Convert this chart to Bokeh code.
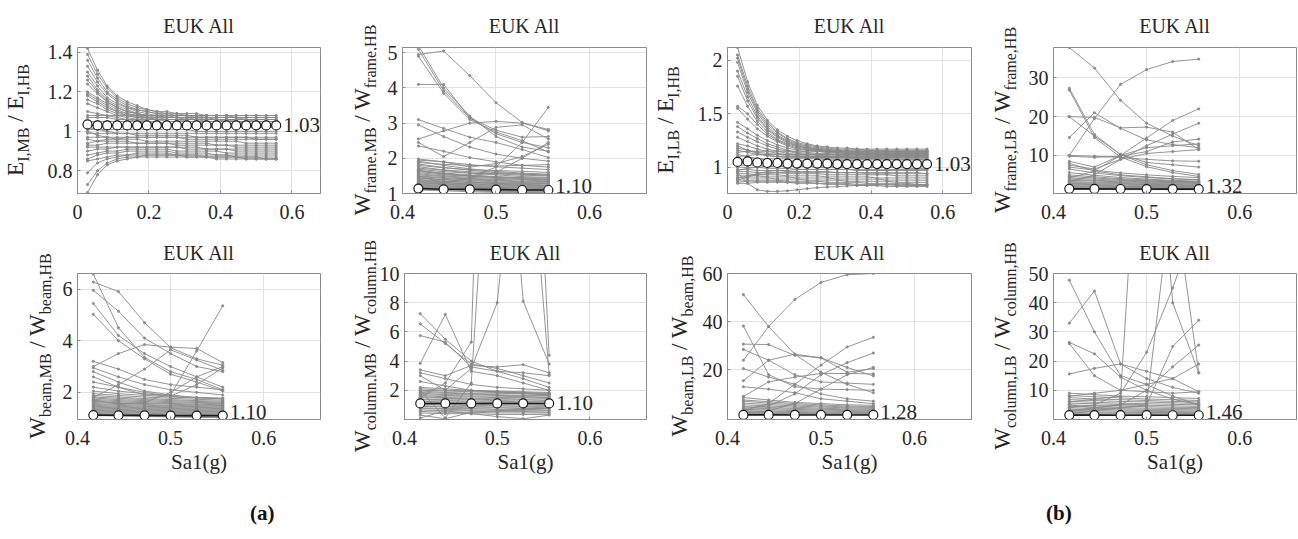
from bokeh.plotting import figure
from bokeh.models import Range1d, FixedTicker, Label, Div
from bokeh.layouts import column, row
from bokeh.embed import file_html
from bokeh.resources import INLINE

FONT = "Liberation Serif"
INK = "#262626"
GRAY = "#888888"
FRAME = "#8c8c8c"

# ---------------------------------------------------------------- data
# spectral acceleration steps (g)
SA_E = [0.028, 0.056, 0.083, 0.111, 0.139, 0.167, 0.194, 0.222, 0.250, 0.278,
        0.306, 0.333, 0.361, 0.389, 0.417, 0.444, 0.472, 0.500, 0.528, 0.556]
SA_W = [0.417, 0.444, 0.472, 0.500, 0.528, 0.556]

# input energy ratio, medium / high ductility
E_MB_HB = [
    [1.42,1.31,1.23,1.18,1.15,1.13,1.11,1.10,1.10,1.09,1.09,1.09,1.08,1.08,1.08,1.08,1.08,1.08,1.08,1.08],
    [1.39,1.29,1.22,1.17,1.14,1.12,1.11,1.10,1.09,1.09,1.08,1.08,1.08,1.08,1.08,1.07,1.07,1.07,1.07,1.07],
    [1.36,1.27,1.20,1.16,1.13,1.11,1.10,1.09,1.09,1.08,1.08,1.08,1.07,1.07,1.07,1.07,1.07,1.07,1.07,1.07],
    [1.33,1.25,1.19,1.15,1.12,1.11,1.10,1.09,1.08,1.08,1.08,1.07,1.07,1.07,1.07,1.07,1.06,1.06,1.06,1.06],
    [1.30,1.23,1.17,1.14,1.12,1.10,1.09,1.08,1.08,1.07,1.07,1.07,1.07,1.06,1.06,1.06,1.06,1.06,1.06,1.06],
    [1.28,1.21,1.16,1.13,1.11,1.09,1.08,1.08,1.07,1.07,1.07,1.06,1.06,1.06,1.06,1.06,1.06,1.05,1.05,1.05],
    [1.26,1.20,1.15,1.12,1.10,1.09,1.08,1.07,1.07,1.07,1.06,1.06,1.06,1.06,1.05,1.05,1.05,1.05,1.05,1.05],
    [1.24,1.19,1.15,1.12,1.10,1.09,1.08,1.08,1.07,1.07,1.07,1.07,1.06,1.06,1.06,1.06,1.06,1.06,1.06,1.06],
    [1.20,1.17,1.14,1.11,1.09,1.08,1.07,1.07,1.06,1.06,1.06,1.06,1.05,1.05,1.05,1.05,1.05,1.05,1.05,1.05],
    [1.19,1.16,1.13,1.10,1.09,1.08,1.07,1.06,1.06,1.06,1.05,1.05,1.05,1.05,1.05,1.05,1.04,1.04,1.04,1.04],
    [1.18,1.15,1.12,1.10,1.08,1.07,1.06,1.06,1.05,1.05,1.05,1.05,1.04,1.04,1.04,1.04,1.04,1.04,1.04,1.04],
    [1.16,1.14,1.11,1.09,1.08,1.07,1.07,1.06,1.06,1.06,1.06,1.06,1.06,1.06,1.06,1.06,1.06,1.06,1.06,1.06],
    [1.14,1.12,1.10,1.08,1.07,1.06,1.05,1.05,1.04,1.04,1.04,1.04,1.03,1.03,1.03,1.03,1.03,1.03,1.03,1.03],
    [1.10,1.09,1.08,1.07,1.06,1.05,1.05,1.04,1.04,1.04,1.03,1.03,1.03,1.03,1.03,1.03,1.03,1.02,1.02,1.02],
    [1.08,1.08,1.08,1.08,1.08,1.08,1.08,1.08,1.08,1.08,1.08,1.08,1.08,1.08,1.08,1.08,1.08,1.08,1.08,1.08],
    [1.07,1.07,1.07,1.06,1.06,1.06,1.06,1.06,1.06,1.06,1.06,1.06,1.06,1.06,1.06,1.05,1.05,1.05,1.05,1.05],
    [1.05,1.05,1.05,1.05,1.05,1.05,1.04,1.04,1.04,1.04,1.04,1.04,1.04,1.04,1.04,1.04,1.04,1.04,1.04,1.04],
    [1.03,1.03,1.03,1.03,1.03,1.03,1.03,1.03,1.03,1.03,1.03,1.03,1.02,1.02,1.02,1.02,1.02,1.02,1.02,1.02],
    [1.01,1.01,1.01,1.01,1.01,1.01,1.01,1.01,1.01,1.01,1.01,1.00,1.00,1.00,1.00,1.00,1.00,1.00,1.00,1.00],
    [0.99,0.99,0.99,0.99,0.99,0.99,0.99,0.99,0.99,0.99,0.99,0.99,0.99,0.99,0.99,0.99,0.99,0.99,0.99,0.99],
    [1.02,1.01,1.00,0.99,0.99,0.98,0.98,0.98,0.98,0.98,0.98,0.97,0.97,0.97,0.97,0.97,0.97,0.97,0.97,0.97],
    [0.97,0.97,0.97,0.97,0.97,0.97,0.97,0.97,0.97,0.97,0.96,0.96,0.96,0.96,0.96,0.96,0.96,0.96,0.96,0.96],
    [1.00,0.98,0.97,0.96,0.96,0.96,0.95,0.95,0.95,0.95,0.95,0.95,0.95,0.95,0.95,0.95,0.94,0.94,0.94,0.94],
    [0.96,0.95,0.95,0.95,0.95,0.94,0.94,0.94,0.94,0.94,0.94,0.94,0.94,0.93,0.93,0.93,0.93,0.93,0.93,0.93],
    [0.93,0.93,0.94,0.94,0.94,0.94,0.94,0.94,0.94,0.93,0.93,0.93,0.93,0.93,0.93,0.92,0.92,0.92,0.92,0.92],
    [0.92,0.92,0.92,0.92,0.92,0.92,0.92,0.92,0.92,0.92,0.92,0.92,0.91,0.91,0.91,0.91,0.91,0.91,0.91,0.91],
    [0.90,0.91,0.91,0.92,0.92,0.92,0.92,0.92,0.92,0.92,0.91,0.91,0.91,0.91,0.91,0.90,0.90,0.90,0.90,0.90],
    [0.88,0.89,0.90,0.90,0.91,0.91,0.91,0.91,0.91,0.90,0.90,0.90,0.90,0.90,0.89,0.89,0.89,0.89,0.89,0.89],
    [0.86,0.88,0.89,0.89,0.90,0.90,0.90,0.90,0.90,0.89,0.89,0.89,0.89,0.88,0.88,0.88,0.88,0.88,0.88,0.88],
    [0.85,0.86,0.87,0.88,0.88,0.89,0.89,0.89,0.89,0.88,0.88,0.88,0.88,0.88,0.88,0.87,0.87,0.87,0.87,0.87],
    [0.79,0.84,0.86,0.87,0.88,0.88,0.88,0.88,0.88,0.88,0.88,0.88,0.87,0.87,0.87,0.87,0.87,0.87,0.86,0.86],
    [0.73,0.80,0.84,0.86,0.87,0.87,0.88,0.88,0.88,0.88,0.87,0.87,0.87,0.87,0.87,0.87,0.86,0.86,0.86,0.86],
    [0.69,0.78,0.83,0.85,0.86,0.87,0.87,0.87,0.87,0.87,0.87,0.87,0.87,0.86,0.86,0.86,0.86,0.86,0.86,0.86],
    [0.94,0.95,0.96,0.96,0.97,0.97,0.97,0.97,0.97,0.97,0.97,0.97,0.97,0.97,0.97,0.97,0.97,0.96,0.96,0.96],
]
E_MB_HB_MEAN = [1.035,1.03,1.03,1.03,1.03,1.03,1.03,1.03,1.03,1.03,1.03,1.03,1.03,1.03,1.03,1.03,1.03,1.03,1.03,1.03]

# input energy ratio, low / high ductility
E_LB_HB = [
    [2.12,1.80,1.58,1.44,1.35,1.29,1.25,1.22,1.20,1.19,1.18,1.18,1.17,1.17,1.17,1.17,1.17,1.17,1.17,1.17],
    [2.05,1.76,1.55,1.42,1.33,1.27,1.23,1.21,1.19,1.18,1.17,1.17,1.17,1.16,1.16,1.16,1.16,1.16,1.16,1.16],
    [2.02,1.73,1.53,1.40,1.32,1.26,1.22,1.20,1.18,1.17,1.16,1.16,1.16,1.16,1.15,1.15,1.15,1.15,1.15,1.15],
    [1.98,1.70,1.51,1.38,1.30,1.25,1.21,1.19,1.17,1.16,1.16,1.15,1.15,1.15,1.15,1.15,1.15,1.15,1.15,1.15],
    [1.90,1.66,1.48,1.36,1.29,1.24,1.20,1.18,1.17,1.16,1.15,1.15,1.15,1.14,1.14,1.14,1.14,1.14,1.14,1.14],
    [1.85,1.62,1.46,1.35,1.28,1.23,1.20,1.18,1.16,1.15,1.15,1.14,1.14,1.14,1.14,1.14,1.14,1.14,1.14,1.14],
    [1.76,1.57,1.43,1.33,1.26,1.22,1.19,1.17,1.16,1.15,1.14,1.14,1.14,1.13,1.13,1.13,1.13,1.13,1.13,1.13],
    [1.57,1.50,1.40,1.31,1.25,1.21,1.18,1.16,1.15,1.14,1.14,1.13,1.13,1.13,1.13,1.13,1.13,1.13,1.13,1.13],
    [1.55,1.45,1.36,1.29,1.24,1.20,1.17,1.16,1.15,1.14,1.13,1.13,1.13,1.12,1.12,1.12,1.12,1.12,1.12,1.12],
    [1.42,1.36,1.30,1.25,1.21,1.18,1.16,1.14,1.13,1.13,1.12,1.12,1.12,1.12,1.12,1.11,1.11,1.11,1.11,1.11],
    [1.38,1.32,1.27,1.22,1.19,1.16,1.14,1.13,1.12,1.12,1.11,1.11,1.11,1.11,1.11,1.11,1.11,1.11,1.11,1.11],
    [1.33,1.28,1.24,1.20,1.17,1.15,1.13,1.12,1.11,1.11,1.10,1.10,1.10,1.10,1.10,1.10,1.10,1.10,1.10,1.10],
    [1.28,1.24,1.20,1.17,1.15,1.13,1.12,1.11,1.10,1.10,1.10,1.09,1.09,1.09,1.09,1.09,1.09,1.09,1.09,1.09],
    [1.22,1.20,1.17,1.15,1.13,1.12,1.11,1.10,1.09,1.09,1.09,1.09,1.08,1.08,1.08,1.08,1.08,1.08,1.08,1.08],
    [1.18,1.16,1.14,1.13,1.12,1.11,1.10,1.09,1.09,1.08,1.08,1.08,1.08,1.08,1.08,1.08,1.07,1.07,1.07,1.07],
    [1.14,1.15,1.15,1.15,1.15,1.15,1.15,1.15,1.15,1.15,1.15,1.15,1.15,1.15,1.15,1.15,1.15,1.15,1.15,1.15],
    [1.10,1.11,1.12,1.12,1.12,1.12,1.12,1.12,1.12,1.12,1.12,1.12,1.12,1.12,1.12,1.12,1.12,1.12,1.12,1.12],
    [1.07,1.08,1.08,1.08,1.08,1.08,1.08,1.08,1.08,1.07,1.07,1.07,1.07,1.07,1.07,1.07,1.07,1.07,1.07,1.07],
    [1.12,1.10,1.08,1.07,1.06,1.05,1.05,1.05,1.05,1.05,1.04,1.04,1.04,1.04,1.04,1.04,1.04,1.04,1.04,1.04],
    [1.04,1.04,1.04,1.04,1.04,1.03,1.03,1.03,1.03,1.03,1.03,1.03,1.03,1.02,1.02,1.02,1.02,1.02,1.02,1.02],
    [1.02,1.02,1.02,1.01,1.01,1.01,1.01,1.01,1.00,1.00,1.00,1.00,1.00,1.00,1.00,1.00,1.00,0.99,0.99,0.99],
    [1.00,1.00,1.00,0.99,0.99,0.99,0.98,0.98,0.98,0.98,0.98,0.98,0.97,0.97,0.97,0.97,0.97,0.97,0.97,0.97],
    [0.98,0.98,0.97,0.97,0.97,0.96,0.96,0.96,0.96,0.96,0.95,0.95,0.95,0.95,0.95,0.95,0.95,0.95,0.95,0.94],
    [0.96,0.96,0.95,0.95,0.95,0.94,0.94,0.94,0.94,0.93,0.93,0.93,0.93,0.93,0.93,0.93,0.92,0.92,0.92,0.92],
    [0.94,0.94,0.93,0.93,0.93,0.92,0.92,0.92,0.92,0.91,0.91,0.91,0.91,0.91,0.90,0.90,0.90,0.90,0.90,0.90],
    [0.92,0.92,0.92,0.91,0.91,0.91,0.90,0.90,0.90,0.90,0.89,0.89,0.89,0.89,0.89,0.88,0.88,0.88,0.88,0.88],
    [0.90,0.90,0.90,0.90,0.89,0.89,0.89,0.88,0.88,0.88,0.88,0.87,0.87,0.87,0.87,0.87,0.86,0.86,0.86,0.86],
    [0.88,0.88,0.88,0.88,0.88,0.87,0.87,0.87,0.87,0.86,0.86,0.86,0.86,0.85,0.85,0.85,0.85,0.85,0.84,0.84],
    [0.86,0.87,0.87,0.87,0.87,0.86,0.86,0.86,0.85,0.85,0.85,0.85,0.84,0.84,0.84,0.84,0.83,0.83,0.83,0.83],
    [0.85,0.85,0.86,0.86,0.86,0.86,0.85,0.85,0.85,0.84,0.84,0.84,0.83,0.83,0.83,0.82,0.82,0.82,0.82,0.82],
    [0.95,0.85,0.79,0.775,0.775,0.78,0.79,0.80,0.81,0.815,0.82,0.825,0.83,0.83,0.835,0.835,0.84,0.84,0.84,0.84],
    [1.16,1.14,1.12,1.11,1.10,1.09,1.09,1.09,1.09,1.09,1.09,1.09,1.09,1.09,1.09,1.09,1.09,1.09,1.09,1.09],
    [1.20,1.16,1.13,1.11,1.10,1.10,1.10,1.10,1.10,1.10,1.10,1.10,1.10,1.10,1.10,1.10,1.10,1.10,1.10,1.10],
    [1.05,1.06,1.06,1.06,1.06,1.06,1.06,1.06,1.06,1.06,1.06,1.06,1.06,1.05,1.05,1.05,1.05,1.05,1.05,1.05],
    [0.97,0.99,1.00,1.01,1.01,1.01,1.01,1.01,1.01,1.01,1.01,1.01,1.01,1.01,1.01,1.01,1.01,1.01,1.01,1.01],
    [0.88,0.91,0.93,0.94,0.95,0.95,0.95,0.95,0.95,0.95,0.95,0.95,0.95,0.94,0.94,0.94,0.94,0.94,0.94,0.94],
    [0.90,0.92,0.94,0.96,0.97,0.97,0.98,0.98,0.98,0.98,0.98,0.98,0.98,0.98,0.98,0.98,0.98,0.98,0.98,0.98],
]
E_LB_HB_MEAN = [1.05,1.055,1.045,1.04,1.04,1.035,1.035,1.035,1.035,1.035,1.03,1.03,1.03,1.03,1.03,1.03,1.03,1.03,1.03,1.03]

# frame damage ratio, medium / high
W_FRAME_MB_HB = [
    [5.20,4.00,3.20,2.62,2.32,2.20], [5.10,3.92,3.15,2.70,2.45,2.30],
    [4.90,3.85,3.10,2.75,2.50,2.18], [4.95,5.05,4.35,3.58,3.02,2.78],
    [4.10,4.10,3.15,2.80,2.60,2.62], [3.10,2.85,2.60,2.45,2.25,2.02],
    [2.55,2.78,3.00,3.05,3.00,2.82], [2.95,2.62,2.32,2.12,2.00,1.92],
    [2.35,2.20,2.02,1.90,1.80,1.75], [2.45,2.05,2.45,2.88,2.95,2.55],
    [1.50,1.30,1.45,1.75,2.45,3.45], [1.65,1.55,1.50,1.60,2.00,2.45],
    [1.95,1.90,1.75,1.85,2.05,2.40],
    [1.98,1.90,1.82,1.76,1.72,1.68], [1.92,1.80,1.70,1.63,1.58,1.55],
    [1.88,1.83,1.80,1.78,1.80,1.82], [1.84,1.74,1.66,1.60,1.55,1.52],
    [1.80,1.73,1.68,1.65,1.63,1.60], [1.76,1.67,1.62,1.57,1.55,1.52],
    [1.72,1.66,1.58,1.53,1.48,1.46], [1.69,1.62,1.58,1.56,1.52,1.50],
    [1.66,1.58,1.53,1.48,1.45,1.44], [1.62,1.57,1.50,1.47,1.44,1.41],
    [1.59,1.53,1.49,1.45,1.42,1.40], [1.56,1.50,1.46,1.43,1.40,1.39],
    [1.53,1.48,1.43,1.40,1.38,1.36], [1.50,1.45,1.41,1.38,1.35,1.34],
    [1.48,1.43,1.39,1.36,1.33,1.32], [1.45,1.40,1.37,1.33,1.31,1.30],
    [1.43,1.39,1.34,1.31,1.29,1.28], [1.40,1.36,1.32,1.29,1.27,1.27],
    [1.38,1.34,1.31,1.28,1.26,1.24], [1.36,1.32,1.28,1.26,1.24,1.22],
    [1.34,1.30,1.27,1.24,1.22,1.21], [1.32,1.28,1.25,1.22,1.20,1.19],
    [1.30,1.27,1.23,1.20,1.18,1.17], [1.28,1.25,1.21,1.18,1.16,1.15],
    [1.26,1.23,1.19,1.17,1.15,1.14], [1.24,1.21,1.18,1.15,1.13,1.12],
    [1.22,1.19,1.16,1.13,1.11,1.10], [1.20,1.17,1.14,1.11,1.09,1.08],
    [1.18,1.15,1.12,1.09,1.07,1.06], [1.16,1.13,1.10,1.07,1.05,1.04],
    [1.13,1.10,1.08,1.05,1.03,1.02], [1.10,1.08,1.05,1.03,1.02,1.01],
]
W_FRAME_MB_HB_MEAN = [1.14, 1.12, 1.12, 1.11, 1.10, 1.10]

# frame damage ratio, low / high
W_FRAME_LB_HB = [
    [37.8,32.5,24.2,18.3,15.0,12.5], [10.0,19.5,28.3,32.1,34.2,34.8],
    [27.3,15.4,10.2,7.6,6.1,5.1], [26.8,14.6,9.6,7.1,5.6,4.6],
    [20.0,19.8,17.1,17.3,16.0,11.5], [20.0,15.0,10.3,8.2,7.6,7.0],
    [14.6,21.0,17.0,14.0,12.8,12.0], [4.2,6.0,10.0,14.5,19.0,22.0],
    [3.2,5.0,9.0,12.5,15.5,18.3], [9.8,9.5,9.8,11.0,13.5,14.2],
    [8.5,7.0,10.0,12.0,12.5,13.0], [7.5,6.5,9.0,10.5,11.0,11.5],
    [8.0,6.0,5.0,4.5,4.0,3.8], [10.0,9.8,9.5,9.0,8.6,8.5],
    [6.5,5.5,4.8,4.3,4.0,3.7], [7.0,6.2,5.5,5.0,4.6,4.3],
    [5.6,4.9,4.3,3.9,3.6,3.4], [5.0,4.5,4.0,3.7,3.4,3.2],
    [4.6,4.2,3.8,3.5,3.3,3.1], [4.2,3.9,3.6,3.4,3.2,3.0],
    [3.9,3.6,3.4,3.2,3.0,2.9], [3.6,3.4,3.2,3.0,2.9,2.8],
    [3.3,3.1,3.0,2.8,2.7,2.6], [3.0,2.9,2.8,2.6,2.5,2.4],
    [2.8,2.7,2.6,2.5,2.4,2.3], [2.6,2.5,2.4,2.3,2.2,2.2],
    [2.4,2.3,2.2,2.1,2.1,2.0], [2.2,2.1,2.0,2.0,1.9,1.9],
    [2.0,1.9,1.9,1.8,1.8,1.8], [1.8,1.8,1.7,1.7,1.7,1.6],
    [1.6,1.6,1.6,1.5,1.5,1.5], [1.5,1.5,1.4,1.4,1.4,1.4],
    [1.4,1.4,1.3,1.3,1.3,1.3], [1.3,1.3,1.2,1.2,1.2,1.2],
]
W_FRAME_LB_HB_MEAN = [1.40, 1.38, 1.36, 1.35, 1.33, 1.32]

# beam damage ratio, medium / high
W_BEAM_MB_HB = [
    [6.58,4.50,3.35,2.80,2.50,2.10], [6.27,5.90,4.70,3.73,3.30,3.05],
    [5.95,5.14,4.10,3.50,3.00,2.80], [5.44,4.20,3.50,3.00,2.60,2.20],
    [5.02,4.00,3.30,2.70,2.40,2.05], [2.60,2.20,1.90,1.90,3.60,5.35],
    [3.00,3.50,3.85,3.75,3.70,3.15], [3.20,2.90,2.50,2.30,2.20,2.10],
    [2.95,2.60,2.30,2.10,2.00,1.90], [1.80,2.30,2.90,3.65,3.25,2.85],
    [1.70,1.55,1.60,2.00,2.60,3.00], [2.80,2.40,2.05,1.90,1.80,1.75],
    [2.40,2.20,2.00,1.85,1.80,1.78], [2.20,2.05,1.95,1.85,2.30,2.95],
    [2.05,1.95,1.88,1.82,1.78,1.75], [1.95,1.88,1.82,1.77,1.73,1.70],
    [1.88,1.82,1.76,1.72,1.68,1.66], [1.82,1.77,1.72,1.68,1.65,1.62],
    [1.78,1.72,1.68,1.64,1.61,1.59], [1.73,1.68,1.64,1.60,1.58,1.56],
    [1.69,1.64,1.60,1.57,1.54,1.52], [1.65,1.60,1.57,1.54,1.51,1.49],
    [1.61,1.57,1.53,1.50,1.48,1.46], [1.57,1.53,1.50,1.47,1.45,1.43],
    [1.53,1.50,1.46,1.44,1.42,1.40], [1.50,1.46,1.43,1.41,1.39,1.37],
    [1.46,1.43,1.40,1.38,1.36,1.34], [1.43,1.40,1.37,1.35,1.33,1.31],
    [1.40,1.37,1.34,1.32,1.30,1.28], [1.37,1.34,1.31,1.29,1.27,1.25],
    [1.34,1.31,1.28,1.26,1.24,1.22], [1.31,1.28,1.25,1.23,1.21,1.19],
    [1.28,1.25,1.22,1.20,1.18,1.16], [1.25,1.22,1.19,1.17,1.15,1.13],
    [1.22,1.19,1.16,1.14,1.12,1.10], [1.19,1.16,1.13,1.11,1.09,1.07],
    [1.16,1.13,1.10,1.08,1.06,1.04], [1.12,1.10,1.07,1.05,1.03,1.02],
]
W_BEAM_MB_HB_MEAN = [1.12, 1.11, 1.11, 1.10, 1.10, 1.10]

# column damage ratio, medium / high
W_COLUMN_MB_HB = [
    [1.5,2.5,5.3,60.0,40.0,4.4], [3.0,2.0,3.5,8.0,25.0,3.1],
    [2.0,0.1,2.5,30.0,8.1,3.8], [7.25,5.5,4.0,3.3,2.8,2.2],
    [6.55,5.2,3.8,3.5,3.0,2.5], [5.75,5.3,3.6,3.3,3.2,3.0],
    [3.84,7.2,3.3,3.0,2.5,2.0], [3.4,3.0,3.7,3.6,3.75,3.2],
    [3.2,2.8,2.4,2.2,2.1,2.0], [2.6,2.3,2.0,1.9,1.8,1.7],
    [2.20,2.10,2.00,1.95,1.90,1.85], [2.10,2.00,1.95,1.90,1.85,1.80],
    [2.00,1.95,1.90,1.85,1.80,1.75], [1.95,1.85,1.80,1.80,1.75,1.70],
    [1.85,1.80,1.75,1.70,1.65,1.65], [1.80,1.70,1.70,1.65,1.60,1.60],
    [1.70,1.65,1.60,1.60,1.55,1.50], [1.65,1.55,1.55,1.50,1.50,1.45],
    [1.55,1.50,1.45,1.45,1.40,1.40], [1.50,1.45,1.40,1.35,1.35,1.30],
    [1.40,1.35,1.35,1.30,1.25,1.25], [1.35,1.30,1.25,1.25,1.20,1.20],
    [1.25,1.20,1.20,1.15,1.15,1.10], [1.20,1.15,1.10,1.10,1.05,1.05],
    [1.10,1.05,1.05,1.00,1.00,0.95], [1.05,1.00,0.95,0.95,0.90,0.90],
    [0.95,0.90,0.90,0.85,0.85,0.80], [0.90,0.85,0.80,0.80,0.75,0.75],
    [0.80,0.75,0.75,0.70,0.70,0.65], [0.75,0.70,0.65,0.65,0.60,0.60],
    [0.65,0.60,0.60,0.55,0.55,0.50], [0.55,0.50,0.50,0.45,0.45,0.45],
    [0.45,0.40,0.40,0.35,0.35,0.35], [0.30,0.05,0.50,0.60,0.70,0.80],
    [0.10,0.60,0.40,0.20,0.05,0.30],
]
W_COLUMN_MB_HB_MEAN = [1.10, 1.10, 1.10, 1.10, 1.10, 1.10]

# beam damage ratio, low / high
W_BEAM_LB_HB = [
    [24.0,38.0,49.2,56.3,59.5,60.0], [51.2,38.0,26.5,19.0,14.0,10.5],
    [38.2,18.0,13.0,12.0,11.8,11.5], [30.7,30.5,26.0,25.0,21.0,17.5],
    [28.5,24.0,18.0,15.0,14.5,14.0], [3.0,6.0,14.0,22.0,29.5,33.5],
    [4.0,5.0,10.0,18.0,23.0,27.0], [20.5,17.0,14.0,10.0,8.0,7.0],
    [15.5,24.0,26.5,25.0,19.0,20.5], [9.0,15.0,17.0,18.5,18.5,18.3],
    [13.0,12.0,10.5,8.0,7.0,6.0], [2.0,3.0,6.0,12.0,18.0,21.0],
    [8.5,7.5,6.5,6.0,5.5,5.3], [7.5,6.8,6.0,5.5,5.0,4.8],
    [7.0,6.2,5.5,5.0,4.6,4.4], [6.2,5.6,5.0,4.6,4.2,4.0],
    [5.5,5.0,4.5,4.1,3.8,3.6], [4.8,4.4,4.0,3.7,3.4,3.2],
    [4.2,3.9,3.6,3.3,3.1,2.9], [3.6,3.4,3.1,2.9,2.7,2.6],
    [3.1,2.9,2.7,2.5,2.4,2.3], [2.7,2.5,2.3,2.2,2.1,2.0],
    [2.3,2.2,2.0,1.9,1.8,1.8], [2.0,1.9,1.8,1.7,1.6,1.6],
    [1.7,1.6,1.6,1.5,1.5,1.4],
]
W_BEAM_LB_HB_MEAN = [1.30, 1.30, 1.29, 1.29, 1.28, 1.28]

# column damage ratio, low / high
W_COLUMN_LB_HB = [
    [47.7,30.0,15.0,12.0,8.0,5.0], [33.0,44.0,19.0,14.0,11.0,9.0],
    [26.4,22.5,14.5,10.0,7.0,5.0], [26.0,15.0,10.0,9.5,9.0,9.5],
    [15.6,17.5,19.0,16.5,14.0,9.5], [6.0,7.0,8.0,150.0,40.0,16.0],
    [4.0,5.0,9.0,23.0,45.0,70.0], [3.0,4.0,5.0,5.0,25.0,34.0],
    [5.0,4.0,5.0,10.0,18.0,25.5], [8.0,9.0,10.0,12.0,14.0,19.0],
    [2.0,3.0,4.0,5.0,80.0,16.0],
    [9.0,8.5,8.0,7.8,7.5,7.2], [8.2,7.8,7.4,7.0,6.8,6.5],
    [7.5,7.0,6.8,6.5,6.2,6.0], [6.8,6.5,6.2,6.0,5.7,5.5],
    [6.2,5.9,5.6,5.4,5.2,5.0], [5.6,5.4,5.1,4.9,4.7,4.5],
    [5.0,4.8,4.6,4.4,4.2,4.1], [4.5,4.3,4.1,3.9,3.8,3.7],
    [4.0,3.8,3.7,3.5,3.4,3.3], [3.5,3.4,3.3,3.1,3.0,2.9],
    [3.1,3.0,2.9,2.8,2.7,2.6], [2.7,2.6,2.5,2.4,2.4,2.3],
    [2.3,2.2,2.2,2.1,2.1,2.0], [2.0,1.9,1.9,1.8,1.8,1.8],
    [1.7,1.6,1.6,1.6,1.5,1.5],
]
W_COLUMN_LB_HB_MEAN = [1.50, 1.49, 1.48, 1.47, 1.46, 1.46]

# tick values
X_TICKS_E = [0, 0.2, 0.4, 0.6]
X_TICKS_W = [0.4, 0.5, 0.6]
Y_TICKS_E_MB = [0.8, 1, 1.2, 1.4]
Y_TICKS_WF_MB = [1, 2, 3, 4, 5]
Y_TICKS_E_LB = [1, 1.5, 2]
Y_TICKS_WF_LB = [10, 20, 30]
Y_TICKS_WB_MB = [2, 4, 6]
Y_TICKS_WC_MB = [2, 4, 6, 8, 10]
Y_TICKS_WB_LB = [20, 40, 60]
Y_TICKS_WC_LB = [10, 20, 30, 40, 50]

FRAME_H = 146
NO_MARGIN = (0, 0, 0, 0)


def ratio_div(sym, num, den, width, height, baseline, centre):
    """Rotated 'X_num / X_den' y-axis title as an HTML block."""
    # baseline sits ~19px below the top of a 23px line box
    return Div(width=width, height=height, margin=NO_MARGIN, text=(
        f'<div style="position:relative;width:{width}px;height:{height}px;">'
        f'<div style="position:absolute;left:{baseline - 19}px;top:{centre}px;'
        "transform-origin:0 0;transform:rotate(-90deg) translateX(-50%);"
        f"white-space:nowrap;font-family:'{FONT}';font-size:23px;line-height:23px;"
        f'color:{INK};">'
        f'{sym}<span style="font-size:16px;position:relative;top:6px;">{num}</span>'
        f' / {sym}<span style="font-size:16px;position:relative;top:6px;">{den}</span>'
        "</div></div>"))


def panel(xs, lines, mean, x_rng, y_rng, x_ticks, y_ticks,
          width, left, height, top, bottom, title_gap, xlabel=None):
    p = figure(width=width, height=height, x_range=Range1d(*x_rng),
               y_range=Range1d(*y_rng), output_backend="svg",
               toolbar_location=None, min_border_left=left, min_border_right=2,
               min_border_top=top, min_border_bottom=bottom, title="EUK All",
               margin=NO_MARGIN)
    p.title.align = "center"
    p.title.text_font = FONT
    p.title.text_font_size = "20px"
    p.title.text_font_style = "normal"
    p.title.text_color = INK
    p.title.standoff = title_gap

    p.multi_line(xs=[xs] * len(lines), ys=lines, line_color=GRAY,
                 line_width=1, line_alpha=0.9)
    p.scatter(x=[v for _ in lines for v in xs], y=[v for ln in lines for v in ln],
              size=2.2, color=GRAY, alpha=0.9)
    p.line(xs, mean, line_color="#1a1a1a", line_width=1.6)
    p.scatter(xs, mean, size=9, fill_color="white", line_color="#1a1a1a",
              line_width=1.2)

    # keep the value tag inside the frame when the curve hugs the bottom
    above = (mean[-1] - y_rng[0]) / (y_rng[1] - y_rng[0]) * FRAME_H
    p.add_layout(Label(x=xs[-1], y=mean[-1], x_offset=7, y_offset=max(0.0, 7.5 - above),
                       text=f"{mean[-1]:.2f}", text_baseline="middle",
                       text_font=FONT, text_font_size="21px", text_color=INK))

    p.xaxis.ticker = FixedTicker(ticks=x_ticks)
    p.yaxis.ticker = FixedTicker(ticks=y_ticks)
    p.xaxis.major_label_overrides = {t: f"{t:g}" for t in x_ticks}
    p.yaxis.major_label_overrides = {t: f"{t:g}" for t in y_ticks}
    for ax in (p.xaxis, p.yaxis):
        ax.major_label_text_font = FONT
        ax.major_label_text_font_size = "20px"
        ax.major_label_text_color = INK
        ax.axis_line_color = FRAME
        ax.major_tick_line_color = FRAME
        ax.major_tick_in = 3
        ax.major_tick_out = 0
        ax.minor_tick_line_color = None
    p.xaxis.major_label_standoff = 11
    p.yaxis.major_label_standoff = 5
    if xlabel:
        p.xaxis.axis_label = xlabel
        p.xaxis.axis_label_text_font = FONT
        p.xaxis.axis_label_text_font_size = "21px"
        p.xaxis.axis_label_text_font_style = "normal"
        p.xaxis.axis_label_text_color = INK
        p.xaxis.axis_label_standoff = 2
    p.grid.grid_line_color = "#e2e2e2"
    p.outline_line_color = FRAME
    p.outline_line_width = 1
    return p


E_RANGE = (0, 0.68)
W_RANGE = (0.4, 0.661)
R1 = dict(height=228, top=47, bottom=35, title_gap=21)
R2 = dict(height=252, top=45, bottom=61, title_gap=19, xlabel="Sa1(g)")

p1 = panel(SA_E, E_MB_HB, E_MB_HB_MEAN, E_RANGE, (0.685, 1.425), X_TICKS_E,
           Y_TICKS_E_MB, width=284, left=39, **R1)
p2 = panel(SA_W, W_FRAME_MB_HB, W_FRAME_MB_HB_MEAN, W_RANGE, (1.0, 5.15), X_TICKS_W,
           Y_TICKS_WF_MB, width=272, left=26, **R1)
p3 = panel(SA_E, E_LB_HB, E_LB_HB_MEAN, E_RANGE, (0.755, 2.12), X_TICKS_E,
           Y_TICKS_E_LB, width=289, left=43, **R1)
p4 = panel(SA_W, W_FRAME_LB_HB, W_FRAME_LB_HB_MEAN, W_RANGE, (0.2, 37.8), X_TICKS_W,
           Y_TICKS_WF_LB, width=279, left=34, **R1)

p5 = panel(SA_W, W_BEAM_MB_HB, W_BEAM_MB_HB_MEAN, W_RANGE, (0.95, 6.6), X_TICKS_W,
           Y_TICKS_WB_MB, width=268, left=23, **R2)
p6 = panel(SA_W, W_COLUMN_MB_HB, W_COLUMN_MB_HB_MEAN, W_RANGE, (0, 10), X_TICKS_W,
           Y_TICKS_WC_MB, width=272, left=26, **R2)
p7 = panel(SA_W, W_BEAM_LB_HB, W_BEAM_LB_HB_MEAN, W_RANGE, (-0.6, 60), X_TICKS_W,
           Y_TICKS_WB_LB, width=277, left=31, **R2)
p8 = panel(SA_W, W_COLUMN_LB_HB, W_COLUMN_LB_HB_MEAN, W_RANGE, (0, 50), X_TICKS_W,
           Y_TICKS_WC_LB, width=279, left=34, **R2)

c1 = 47 + FRAME_H // 2
c2 = 45 + FRAME_H // 2
y1 = ratio_div("E", "I,MB", "I,HB", 38, 228, 23, c1)
y2 = ratio_div("W", "frame,MB", "frame,HB", 54, 228, 48, c1)
y3 = ratio_div("E", "I,LB", "I,HB", 36, 228, 25, c1)
y4 = ratio_div("W", "frame,LB", "frame,HB", 46, 228, 37, c1)
y5 = ratio_div("W", "beam,MB", "beam,HB", 54, 252, 45, c2)
y6 = ratio_div("W", "column,MB", "column,HB", 54, 252, 48, c2)
y7 = ratio_div("W", "beam,LB", "beam,HB", 48, 252, 39, c2)
y8 = ratio_div("W", "column,LB", "column,HB", 46, 252, 37, c2)

captions = Div(width=1298, height=59, margin=NO_MARGIN, text=(
    '<div style="position:relative;width:1298px;height:59px;'
    "font-family:'Liberation Serif';font-weight:bold;font-size:21px;color:#111;\">"
    '<span style="position:absolute;left:250px;top:18px">(a)</span>'
    '<span style="position:absolute;left:1046px;top:18px">(b)</span></div>'))

layout = column(
    row(y1, p1, y2, p2, y3, p3, y4, p4, margin=NO_MARGIN),
    row(y5, p5, y6, p6, y7, p7, y8, p8, margin=NO_MARGIN),
    captions,
    margin=NO_MARGIN,
)

with open("out.html", "w") as f:
    f.write(file_html(layout, INLINE))
